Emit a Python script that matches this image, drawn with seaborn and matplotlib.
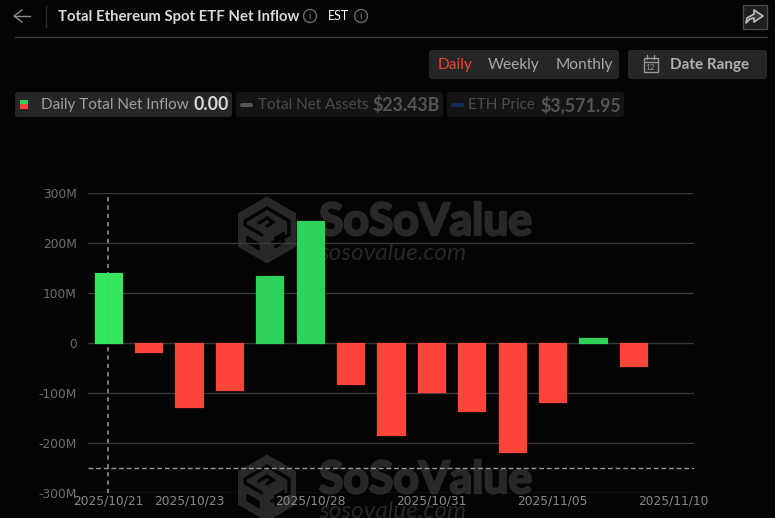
import numpy as np
import pandas as pd
import matplotlib
matplotlib.use("Agg")
import matplotlib.pyplot as plt
import matplotlib.patheffects as pe
from matplotlib.patches import FancyBboxPatch, Rectangle, Polygon, Circle
import seaborn as sns

# values in millions
dates = ["2025/10/21", "2025/10/22", "2025/10/23", "2025/10/24", "2025/10/27",
         "2025/10/28", "2025/10/29", "2025/10/30", "2025/10/31", "2025/11/03",
         "2025/11/04", "2025/11/05", "2025/11/06", "2025/11/07", "2025/11/10"]
inflow = [141, -17, -127, -93, 134, 245, -82, -183, -97, -135, -218, -118, 11, -45, np.nan]
kinds = ["hover", "out", "out", "out", "in", "in", "out", "out", "out", "out",
         "out", "out", "in", "out", "out"]
y_ticks = [-300, -200, -100, 0, 100, 200, 300]
y_labels = ["-300M", "-200M", "-100M", "0", "100M", "200M", "300M"]
shown_dates = ["2025/10/21", "2025/10/23", "2025/10/28", "2025/10/31", "2025/11/05", "2025/11/10"]

W, H = 775, 518
BG = "#040404"
WM = "#282828"

sns.set_theme(style="dark")
plt.rcParams["font.family"] = ["Lato", "DejaVu Sans"]

fig = plt.figure(figsize=(W / 100, H / 100), dpi=100, facecolor=BG)

# pixel canvas under the chart, for the watermark
back = fig.add_axes([0, 0, 1, 1], zorder=0)
back.set_xlim(0, W)
back.set_ylim(H, 0)
back.axis("off")


def watermark(ax, top):
    # solid hexagon with the cube cut out of it in background colour
    cx, cy = 267, top + 39
    r = 33.5
    ang = np.radians(np.arange(30, 390, 60))
    ax.add_patch(Polygon(np.c_[cx + r * np.cos(ang), cy + r * np.sin(ang)], closed=True,
                         fc=WM, ec="none"))
    cuts = [
        ([-5, -22, -22, 0, 22, 22, 5], [5, -5, -9, -22, -9, 5, 13]),
        ([-8, 0, 6, 0], [-7, -12, -8, -4]),
        ([-19, -9, -9, -19, -19], [8, 14, 18, 12, 8]),
        ([9, 16, 16, 9, 9], [8, 4, 12, 16, 8]),
    ]
    for xs, ys in cuts:
        ax.plot(cx + np.array(xs), cy + np.array(ys), color=BG, lw=2.4, solid_joinstyle="miter")
    ax.text(319, top + 31, "SoSoValue", color=WM, fontsize=32, fontweight="bold",
            va="center", ha="left", family="Lato",
            path_effects=[pe.withStroke(linewidth=1.8, foreground=WM)])
    ax.text(319, top + 62, "sosovalue.com", color=WM, fontsize=17.5, style="italic",
            va="center", ha="left", family="Lato")


watermark(back, 191)
watermark(back, 449)

# chart
left, right, top, bottom = 88, 694, 193, 493
ax = fig.add_axes([left / W, 1 - bottom / H, (right - left) / W, (bottom - top) / H], zorder=1)
ax.patch.set_alpha(0)

df = pd.DataFrame({"date": dates, "inflow": inflow, "kind": kinds})
sns.barplot(data=df, x="date", y="inflow", hue="kind", order=dates, dodge=False, width=0.67,
            palette={"hover": "#33e85f", "in": "#2ed159", "out": "#ff453a"},
            legend=False, ax=ax, zorder=3, saturation=1, errorbar=None)
# same colour edge with round joins gives the small rounded corners
for bar in ax.patches:
    bar.set_edgecolor(bar.get_facecolor())
    bar.set_linewidth(0.9)
    bar.set_joinstyle("round")

ax.set_ylim(-300, 300)
ax.set_xlim(-0.5, len(dates) - 0.5)
ax.set_yticks(y_ticks)
ax.set_yticklabels(y_labels, color="#6f6f6f", fontsize=8.8, family="DejaVu Sans")
ax.set_xticks([dates.index(d) for d in shown_dates])
ax.set_xticklabels(shown_dates, color="#8a8a8a", fontsize=8.8, family="DejaVu Sans")
ax.tick_params(axis="both", length=0, pad=8)
ax.tick_params(axis="x", pad=1)
ax.set_xlabel("")
ax.set_ylabel("")
ax.grid(False)
for y in y_ticks:
    ax.axhline(y, color="#3a3a3a", lw=1, zorder=1)
for s in ax.spines.values():
    s.set_visible(False)

# crosshair, only just visible through the hovered bar
ax.axvline(0, color="#8a8a8a", lw=1.2, ls=(0, (2.5, 2.5)), zorder=2)
ax.axvline(0, color="#8a8a8a", lw=1.2, ls=(0, (2.5, 2.5)), zorder=4, alpha=0.2)
ax.axhline(-250, color="#9a9a9a", lw=1, ls=(0, (3.5, 2)), zorder=4)

# pixel canvas above the chart, for the page controls
ui = fig.add_axes([0, 0, 1, 1], zorder=2)
ui.set_xlim(0, W)
ui.set_ylim(H, 0)
ui.axis("off")
ui.patch.set_alpha(0)


def box(x0, y0, x1, y1, color, r=3):
    ui.add_patch(FancyBboxPatch((x0 + r, y0 + r), x1 - x0 - 2 * r, y1 - y0 - 2 * r,
                                boxstyle=f"round,pad={r},rounding_size={r}", fc=color, ec="none"))


def info(x, y):
    ui.add_patch(Circle((x, y), 6.5, fc="none", ec="#6a6a6a", lw=1))
    ui.text(x, y + 0.5, "i", color="#7a7a7a", fontsize=7.5, ha="center", va="center")


# header
ui.plot([22, 14, 22], [10, 16, 22], color="#8c8c8c", lw=1)
ui.plot([14, 30], [16, 16], color="#8c8c8c", lw=1)
ui.plot([45.5, 45.5], [6, 27], color="#2a2a2a", lw=1)
ui.text(58, 16.5, "Total Ethereum Spot ETF Net Inflow", color="#d9d9d9", fontsize=10.7,
        fontweight="bold", va="center")
info(310, 16)
ui.text(328, 16, "EST", color="#ffffff", fontsize=9, va="center")
info(361, 16)
ui.plot([15, 767], [36.5, 36.5], color="#3c3c3c", lw=1)

# share button
ui.add_patch(Rectangle((742.5, 4.5), 24, 24, fc="#1e1e1e", ec="#4a4a4a", lw=1))
ui.add_patch(Polygon([(746, 23), (747, 18), (754, 14), (754, 10), (763, 16), (754, 22),
                      (754, 18), (750, 19)], closed=True, fc="#3a3a3a", ec="#bdbdbd", lw=1.2,
                     joinstyle="round"))

# period buttons
box(429, 50, 619, 79, "#262626")
ui.text(438, 65, "Daily", color="#f0422a", fontsize=11.2, va="center")
ui.text(488, 65, "Weekly", color="#a8a8a8", fontsize=11.2, va="center")
ui.text(555.5, 65, "Monthly", color="#a8a8a8", fontsize=11.2, va="center")
box(628, 50, 767, 79, "#262626")
ui.add_patch(Rectangle((643.5, 57.5), 14, 14.5, fc="none", ec="#9a9a9a", lw=1))
ui.plot([643.5, 657.5], [61.5, 61.5], color="#9a9a9a", lw=1)
ui.plot([647, 647], [55, 59], color="#9a9a9a", lw=1)
ui.plot([654, 654], [55, 59], color="#9a9a9a", lw=1)
ui.text(650.5, 67, "12", color="#9a9a9a", fontsize=6, ha="center", va="center")
ui.text(670, 65, "Date Range", color="#b0b0b0", fontsize=11, fontweight="bold", va="center")

# legend row
box(15, 92, 232, 117, "#262626")
ui.add_patch(Rectangle((20, 100), 8, 4, fc="#2ed159", ec="none"))
ui.add_patch(Rectangle((20, 104), 8, 5, fc="#ff453a", ec="none"))
ui.text(41, 105, "Daily Total Net Inflow", color="#a0a0a0", fontsize=11, va="center")
ui.text(193.5, 105, "0.00", color="#d8d8d8", fontsize=12.8, fontweight="bold", va="center")
box(236, 92, 443, 117, "#141414")
box(240, 103, 253, 107, "#555555", r=2)
ui.text(258, 105, "Total Net Assets", color="#4a4a4a", fontsize=11, va="center")
ui.text(372, 105, "$23.43B", color="#555555", fontsize=12.8, fontweight="bold", va="center")
box(447, 92, 624, 117, "#141414")
box(451, 103, 464, 107, "#142a5c", r=2)
ui.text(468, 105, "ETH Price", color="#4a4a4a", fontsize=11, va="center")
ui.text(540, 105, "$3,571.95", color="#555555", fontsize=12.8, fontweight="bold", va="center")

fig.savefig("out.png", dpi=100, facecolor=BG)
